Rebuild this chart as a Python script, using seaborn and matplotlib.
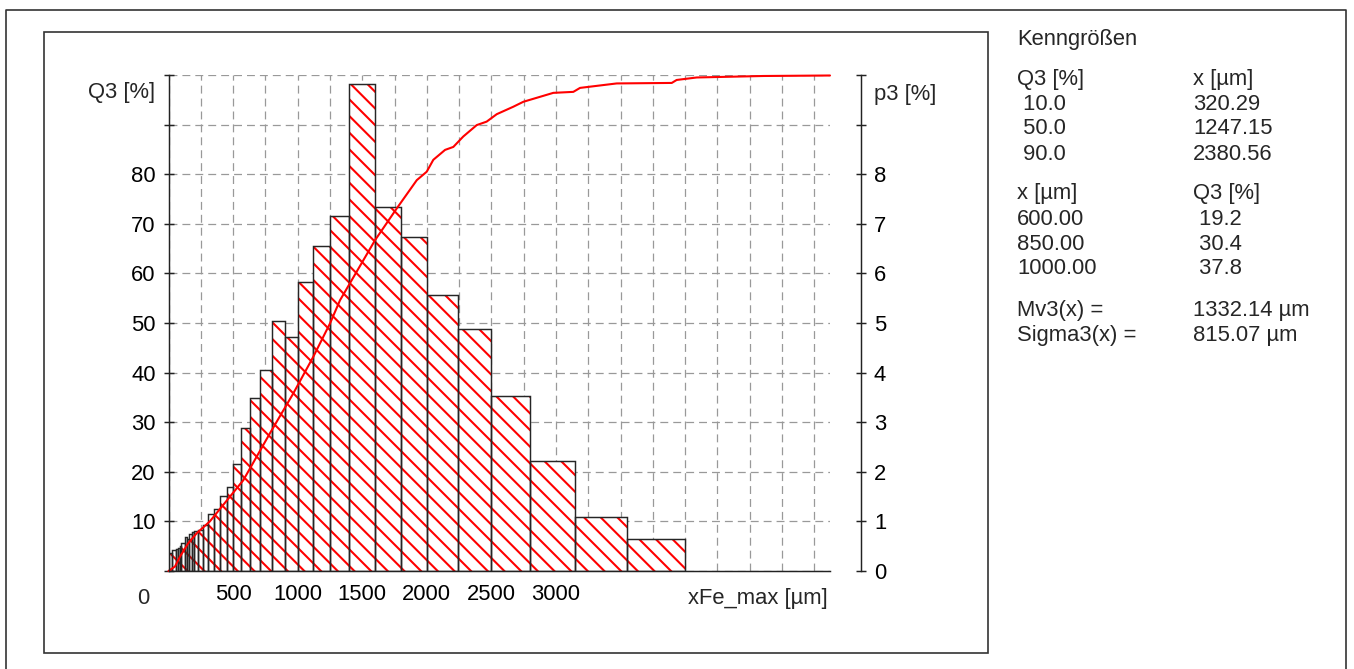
import numpy as np
import matplotlib
matplotlib.use("Agg")
import matplotlib.pyplot as plt
import seaborn as sns
from matplotlib.lines import Line2D
from matplotlib.patches import Rectangle

# particle size classes [µm] and density distribution p3 [%]
bin_edges = [0, 30, 56, 71, 90, 100, 125, 140, 160, 180, 200, 230, 270, 308,
             355, 402, 450, 500, 560, 630, 710, 800, 900, 1000, 1120, 1250,
             1400, 1600, 1800, 2000, 2240, 2500, 2800, 3150, 3550, 4000]
p3_values = [0.36, 0.42, 0.45, 0.47, 0.50, 0.56, 0.69, 0.65, 0.75, 0.78,
             0.80, 0.83, 0.93, 1.14, 1.26, 1.51, 1.70, 2.15, 2.88, 3.48,
             4.05, 5.05, 4.71, 5.83, 6.55, 7.16, 9.82, 7.33, 6.73, 5.56,
             4.88, 3.53, 2.22, 1.08, 0.65]

# cumulative distribution Q3 [%]
q3_x = [0, 50, 89, 153, 218, 320, 476, 579, 786, 966, 1121, 1250, 1328,
        1599, 1767, 1922, 1999, 2050, 2141, 2205, 2282, 2386, 2463, 2541,
        2669, 2747, 2979, 3134, 3186, 3470, 3896, 3934, 4089, 4605, 5121]
q3_y = [0, 0.9, 2.9, 5.6, 7.6, 10.0, 15.0, 18.3, 27.8, 35.8, 43.2, 49.9,
        54.6, 66.7, 73.1, 78.8, 80.5, 82.9, 84.9, 85.5, 87.6, 89.9, 90.6,
        92.1, 93.6, 94.6, 96.4, 96.6, 97.4, 98.3, 98.4, 99.0, 99.5, 99.8,
        99.9]

x_ticks = [0, 500, 1000, 1500, 2000, 2500, 3000, 3500, 4000, 4500, 5000]
x_labels = ["", "500", "1000", "1500", "2000", "2500", "3000", "", "", "", ""]
q3_ticks = list(range(0, 101, 10))
q3_labels = ["", "10", "20", "30", "40", "50", "60", "70", "80", "", ""]
p3_ticks = list(range(0, 11))
p3_labels = ["0", "1", "2", "3", "4", "5", "6", "7", "8", "", ""]

# Kenngrößen table
tab_q3 = [" 10.0", " 50.0", " 90.0"]
tab_x = ["320.29", "1247.15", "2380.56"]
tab_x2 = ["600.00", "850.00", "1000.00"]
tab_q32 = [" 19.2", " 30.4", " 37.8"]
mean_txt = ["Mv3(x) =", "Sigma3(x) ="]
mean_val = ["1332.14 µm", "815.07 µm"]

sns.set_theme(style="white")
plt.rcParams["font.family"] = ["Liberation Sans", "DejaVu Sans"]
plt.rcParams["hatch.linewidth"] = 1.0
plt.rcParams["lines.scale_dashes"] = False

W, H, DPI = 1354, 669, 150
FS = 10.56
fig = plt.figure(figsize=(W / DPI, H / DPI), dpi=DPI, facecolor="white")


def fx(px):
    return px / W


def fy(py):
    return 1 - py / H


ax = fig.add_axes([fx(168.5), fy(571), fx(830) - fx(168.5), fy(75) - fy(571)])
ax.set_facecolor("white")

centers = [(a + b) / 2 for a, b in zip(bin_edges[:-1], bin_edges[1:])]
sns.histplot(x=centers, weights=p3_values, bins=bin_edges, stat="count",
             color="white", edgecolor="red", linewidth=0, hatch="\\\\\\",
             alpha=1, ax=ax, zorder=2)
sns.histplot(x=centers, weights=p3_values, bins=bin_edges, stat="count",
             fill=False, color="#262626", linewidth=0.7, ax=ax, zorder=3)

ax.set_xlim(0, 5121)
ax.set_ylim(0, 10)
ax.set_xticks(x_ticks)
ax.set_xticklabels(x_labels)
ax.set_xticks(np.arange(250, 5001, 500), minor=True)
ax.set_yticks(p3_ticks)
ax.set_yticklabels(p3_labels)
ax.set_xlabel("")
ax.set_ylabel("")
ax.set_axisbelow(True)
ax.grid(True, which="both", axis="x", color="#999999", linewidth=0.6,
        linestyle=(0, (3.8, 2.4)))
ax.grid(True, which="major", axis="y", color="#999999", linewidth=0.6,
        linestyle=(0, (3.8, 2.4)))

ax2 = ax.twinx()
sns.lineplot(x=q3_x, y=q3_y, color="red", linewidth=1.0, ax=ax2,
             clip_on=False)
ax2.set_ylim(0, 100)
ax2.set_xlim(0, 5121)
ax2.set_yticks(q3_ticks)
ax2.set_yticklabels(q3_labels)
ax2.set_ylabel("")
ax2.yaxis.tick_left()
ax.yaxis.tick_right()

for s in ["top", "left"]:
    ax.spines[s].set_visible(False)
ax.spines["right"].set_position(("outward", 31 * 72 / DPI))
for s in ["top", "right", "bottom"]:
    ax2.spines[s].set_visible(False)
for sp in list(ax.spines.values()) + list(ax2.spines.values()):
    sp.set_color("#222222")
    sp.set_linewidth(0.7)

for a in (ax, ax2):
    a.tick_params(which="major", direction="inout", length=4.8, width=0.7,
                  color="#222222", labelsize=FS, pad=3.8, labelcolor="black")
    a.tick_params(which="minor", length=0)

fig.text(fx(143), fy(604), "0", ha="center", va="baseline", fontsize=FS)
fig.text(fx(828), fy(604), "xFe_max [µm]", ha="right", va="baseline",
         fontsize=FS)
fig.text(fx(155), fy(98), "Q3 [%]", ha="right", va="baseline", fontsize=FS)
fig.text(fx(874), fy(100), "p3 [%]", ha="left", va="baseline", fontsize=FS)

# side table
c1, c2 = fx(1017), fx(1193)
fig.text(c1, fy(44.5), "Kenngrößen", fontsize=FS, va="baseline")
fig.text(c1, fy(84.5), "Q3 [%]", fontsize=FS, va="baseline")
fig.text(c2, fy(84.5), "x [µm]", fontsize=FS, va="baseline")
for i, yb in enumerate([109.5, 134.5, 159.5]):
    fig.text(c1, fy(yb), tab_q3[i], fontsize=FS, va="baseline")
    fig.text(c2, fy(yb), tab_x[i], fontsize=FS, va="baseline")
fig.text(c1, fy(199.5), "x [µm]", fontsize=FS, va="baseline")
fig.text(c2, fy(199.5), "Q3 [%]", fontsize=FS, va="baseline")
for i, yb in enumerate([224.5, 249.5, 274.5]):
    fig.text(c1, fy(yb), tab_x2[i], fontsize=FS, va="baseline")
    fig.text(c2, fy(yb), tab_q32[i], fontsize=FS, va="baseline")
for i, yb in enumerate([316, 341]):
    fig.text(c1, fy(yb), mean_txt[i], fontsize=FS, va="baseline")
    fig.text(c2, fy(yb), mean_val[i], fontsize=FS, va="baseline")

# frames
fig.add_artist(Rectangle((fx(44), fy(653)), fx(988) - fx(44),
                         fy(32) - fy(653), fill=False, edgecolor="#333333",
                         linewidth=0.8, transform=fig.transFigure))
fig.add_artist(Line2D([fx(6), fx(6), fx(1346), fx(1346)],
                      [fy(669), fy(10), fy(10), fy(669)], color="#333333",
                      linewidth=0.8, transform=fig.transFigure))

fig.savefig("out.png", dpi=DPI, facecolor="white")
